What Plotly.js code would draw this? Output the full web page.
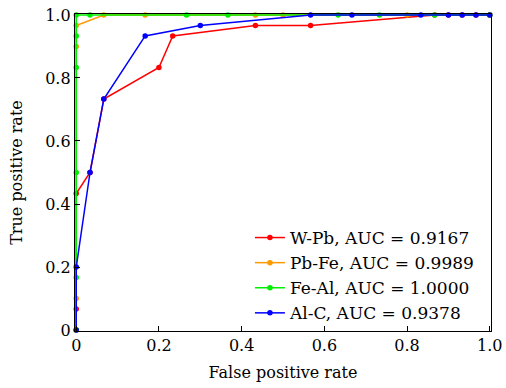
<!DOCTYPE html>
<html>
<head>
<meta charset="utf-8">
<script src="https://cdn.plot.ly/plotly-3.0.1.min.js"></script>
<style>html,body{margin:0;padding:0;background:#fff;}#chart{width:506px;height:388px;}</style>
</head>
<body>
<div id="chart"></div>
<script>
// W-Pb
var wpbFpr = [0, 0, 0, 0.0333, 0.0667, 0.2, 0.2333, 0.4333, 0.5667, 0.8667, 0.9, 0.9333, 0.9667, 1.0];
var wpbTpr = [0, 0.0667, 0.4333, 0.5, 0.7333, 0.8333, 0.9333, 0.9667, 0.9667, 1.0, 1.0, 1.0, 1.0, 1.0];
// Pb-Fe
var pbfeFpr = [0, 0, 0, 0, 0.0667, 0.1667, 0.4333, 0.5, 0.8, 1.0];
var pbfeTpr = [0, 0.1, 0.9, 0.9667, 1.0, 1.0, 1.0, 1.0, 1.0, 1.0];
// Fe-Al
var fealFpr = [0, 0, 0, 0, 0, 0, 0.0333, 0.2667, 0.3667, 0.6333, 0.7333, 0.8667, 1.0];
var fealTpr = [0, 0.1667, 0.5, 0.8333, 0.9333, 1.0, 1.0, 1.0, 1.0, 1.0, 1.0, 1.0, 1.0];
// Al-C
var alcFpr = [0, 0, 0.0333, 0.0667, 0.1667, 0.3, 0.5667, 0.6667, 0.8333, 0.9, 0.9333, 0.9667, 1.0];
var alcTpr = [0, 0.2, 0.5, 0.7333, 0.9333, 0.9667, 1.0, 1.0, 1.0, 1.0, 1.0, 1.0, 1.0];

var names = ['W-Pb, AUC = 0.9167', 'Pb-Fe, AUC = 0.9989', 'Fe-Al, AUC = 1.0000', 'Al-C, AUC = 0.9378'];
var colors = ['#ff0000', '#ff9900', '#00ee00', '#0000ff'];
var xs = [wpbFpr, pbfeFpr, fealFpr, alcFpr];
var ys = [wpbTpr, pbfeTpr, fealTpr, alcTpr];

var tickVals = [0, 0.2, 0.4, 0.6, 0.8, 1.0];
var tickText = ['0', '0.2', '0.4', '0.6', '0.8', '1.0'];

var traces = [];
for (var i = 0; i < 4; i++) {
  traces.push({
    x: xs[i], y: ys[i], name: names[i], type: 'scatter', mode: 'lines+markers',
    line: {color: colors[i], width: 1.5},
    marker: {color: colors[i], size: 5.5},
    cliponaxis: false
  });
}

var font = 'DejaVu Serif, serif';
var layout = {
  width: 506, height: 388,
  margin: {l: 75, r: 15, t: 14, b: 57},
  paper_bgcolor: '#fff', plot_bgcolor: '#fff',
  font: {family: font, size: 16, color: '#000'},
  showlegend: true,
  legend: {x: 0.971, y: 0.0, xanchor: 'right', yanchor: 'bottom', bgcolor: 'rgba(255,255,255,0)',
           font: {family: font, size: 17}, tracegroupgap: 0, itemwidth: 30},
  xaxis: {range: [-0.003, 1.003], tickvals: tickVals, ticktext: tickText, ticks: 'inside', ticklen: 5,
          tickcolor: '#000', showgrid: false, zeroline: false, showline: true, linecolor: '#000', linewidth: 1.2,
          mirror: true, tickfont: {family: font, size: 16},
          title: {text: 'False positive rate', font: {family: font, size: 16}, standoff: 12}},
  yaxis: {range: [-0.003, 1.003], tickvals: tickVals, ticktext: tickText, ticks: 'inside', ticklen: 5,
          tickcolor: '#000', showgrid: false, zeroline: false, showline: true, linecolor: '#000', linewidth: 1.2,
          mirror: true, tickfont: {family: font, size: 16},
          title: {text: 'True positive rate', font: {family: font, size: 16}, standoff: 18}}
};
Plotly.newPlot('chart', traces, layout, {displayModeBar: false, staticPlot: true});
</script>
</body>
</html>
